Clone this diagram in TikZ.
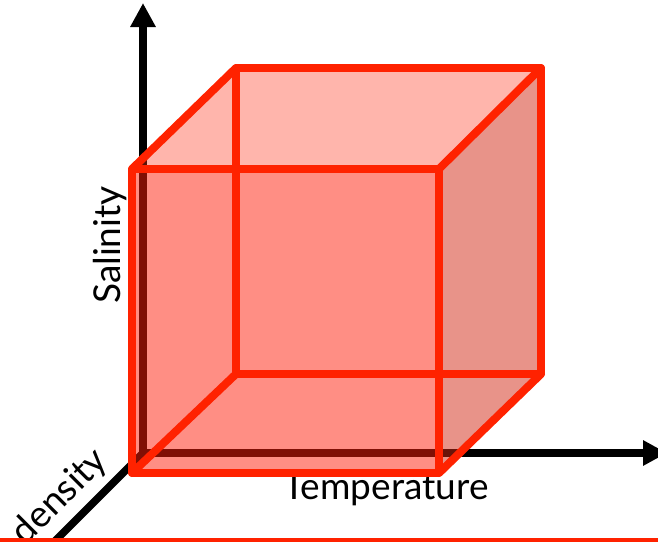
\documentclass[tikz,border=0pt]{standalone}
\usepackage{fontspec}
\setmainfont{Lato}
\usetikzlibrary{arrows.meta}
\definecolor{edgered}{RGB}{255,34,0}
\definecolor{facefront}{RGB}{255,30,10}
\definecolor{facetop}{RGB}{255,50,25}
\definecolor{faceright}{RGB}{210,40,20}
\tikzset{
  axis/.style={line width=7.5pt, black},
  axisarrow/.style={axis, -{Triangle[length=24pt,width=24pt]}},
  label/.style={font=\fontsize{37}{44}\selectfont, text=black, inner sep=0pt},
  cubeedge/.style={line width=8pt, edgered, line join=round, line cap=round},
}
\begin{document}
\begin{tikzpicture}[x=1pt,y=-1pt]
\useasboundingbox (0,0) rectangle (658,541);
% axes
\coordinate (O) at (143,453);
\coordinate (Ytip) at (143,3);
\coordinate (Xtip) at (667,453);
\coordinate (Zend) at (40,556);
\draw[axisarrow] (O) -- (Ytip);
\draw[axisarrow] (O) -- (Xtip);
\draw[axis] (O) -- (Zend);
% labels
\node[label, rotate=90, anchor=base] (sal) at (120,245) {Salinity};
\node[label, anchor=base] (temp) at (386,499) {Temperature};
\node[label, rotate=45] (dens) at (60,497) {density};
% cube corners
\coordinate (A) at (132,169);  % front top left
\coordinate (B) at (439,169);  % front top right
\coordinate (C) at (439,473);  % front bottom right
\coordinate (D) at (132,473);  % front bottom left
\coordinate (E) at (236,68);   % back top left
\coordinate (F) at (541,68);   % back top right
\coordinate (G) at (541,374);  % back bottom right
\coordinate (H) at (236,374);  % back bottom left
% faces
\fill[facefront, fill opacity=0.5] (A) -- (B) -- (C) -- (D) -- cycle;
\fill[facetop, fill opacity=0.36] (A) -- (E) -- (F) -- (B) -- cycle;
\fill[faceright, fill opacity=0.5] (B) -- (F) -- (G) -- (C) -- cycle;
% edges
\draw[cubeedge] (E) -- (F) -- (G) -- (H) -- cycle;
\draw[cubeedge] (A) -- (E) (B) -- (F) (C) -- (G) (D) -- (H);
\draw[cubeedge] (A) -- (B) -- (C) -- (D) -- cycle;
% bottom rule
\coordinate (L) at (0,540);
\coordinate (R) at (658,540);
\draw[line width=4.5pt, edgered] (L) -- (R);
\end{tikzpicture}
\end{document}
